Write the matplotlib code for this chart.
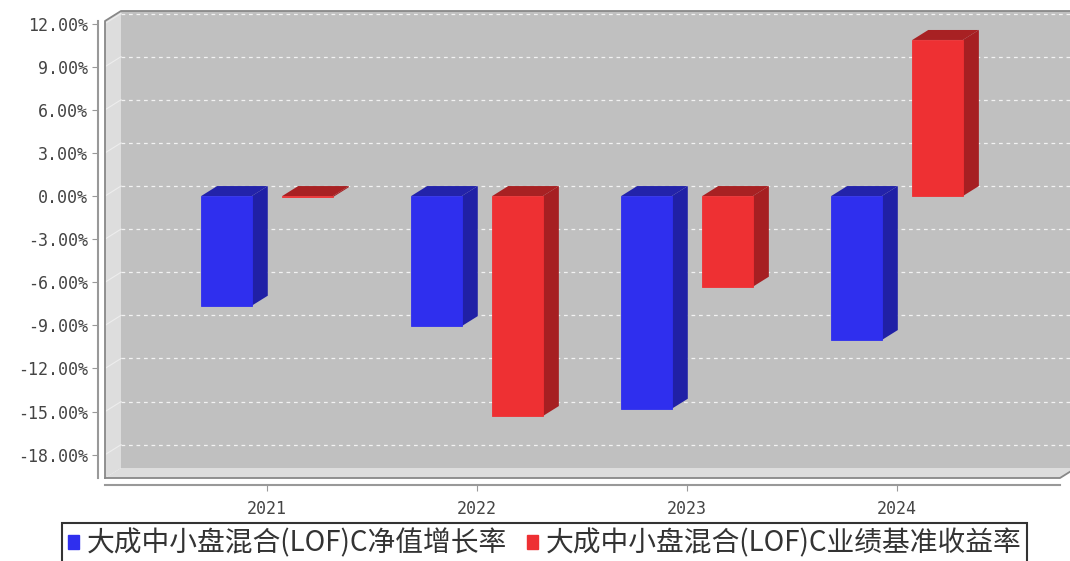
import matplotlib.pyplot as plt
from matplotlib.patches import Polygon, Rectangle, Patch

# data (percent)
years = ["2021", "2022", "2023", "2024"]
nav_growth = [-7.63, -9.05, -14.80, -10.02]
benchmark = [-0.08, -15.31, -6.31, 10.86]
series_names = ["大成中小盘混合(LOF)C净值增长率", "大成中小盘混合(LOF)C业绩基准收益率"]
y_ticks = [-18, -15, -12, -9, -6, -3, 0, 3, 6, 9, 12]

plt.rcParams['font.family'] = ['DejaVu Sans Mono']

W, H = 1070, 561
fig = plt.figure(figsize=(W / 100, H / 100), dpi=100)
ax = fig.add_axes([105 / W, 1 - 478 / H, 955 / W, 457 / H])
x0, x1 = -0.7714, 3.776
y0, y1 = -19.62, 12.18
ax.set_xlim(x0, x1)
ax.set_ylim(y0, y1)
ax.patch.set_visible(False)

# depth offset of the 3d look, in data units
dx = 16 / 210
dy = 10 / 14.37

wall = "#C0C0C0"
side_wall = "#DDDDDD"
edge = "#888888"

def poly(pts, color, z, **kw):
    ax.add_patch(Polygon(pts, closed=True, facecolor=color, edgecolor="none",
                         clip_on=False, zorder=z, **kw))

# back wall, left wall, floor
poly([(x0 + dx, y0 + dy), (x1 + dx, y0 + dy), (x1 + dx, y1 + dy), (x0 + dx, y1 + dy)], wall, 0)
poly([(x0, y0), (x0, y1), (x0 + dx, y1 + dy), (x0 + dx, y0 + dy)], side_wall, 0.5)
poly([(x0, y0), (x1, y0), (x1 + dx, y0 + dy), (x0 + dx, y0 + dy)], side_wall, 0.5)

# gridlines on the walls
for t in y_ticks:
    ax.plot([x0 + dx, x1 + dx], [t + dy, t + dy], color="#F2F2F2", lw=0.9,
            ls=(0, (3, 3)), clip_on=False, zorder=1)
    ax.plot([x0, x0 + dx], [t, t + dy], color="#EDEDED", lw=0.8,
            clip_on=False, zorder=1)

# outline of the box
ax.plot([x0, x0, x0 + dx, x1 + dx], [y0, y1, y1 + dy, y1 + dy],
        color=edge, lw=1.3, clip_on=False, zorder=1.5)
ax.plot([x0, x1, x1 + dx], [y0, y0, y0 + dy], color=edge, lw=1.3,
        clip_on=False, zorder=1.5)

# 3d bars
bw = 0.241
offs = [-0.193, 0.193]
colors = [("#2F2FEE", "#2020A6", "#2323AA"), ("#EE3033", "#A61F22", "#A82123")]
for s, vals in enumerate([nav_growth, benchmark]):
    front, side, top = colors[s]
    for i, v in enumerate(vals):
        a = i + offs[s] - bw / 2
        b = a + bw
        lo, hi = min(0, v), max(0, v)
        poly([(b, lo), (b, hi), (b + dx, hi + dy), (b + dx, lo + dy)], side, 2)
        poly([(a, hi), (b, hi), (b + dx, hi + dy), (a + dx, hi + dy)], top, 2)
        ax.add_patch(Rectangle((a, lo), bw, hi - lo, facecolor=front,
                               edgecolor=front, lw=0.6, clip_on=False, zorder=3))

# axes
for sp in ["top", "right"]:
    ax.spines[sp].set_visible(False)
for sp in ["left", "bottom"]:
    ax.spines[sp].set_position(("outward", 5))
    ax.spines[sp].set_color("#999999")
    ax.spines[sp].set_linewidth(1.5)

ax.set_yticks(y_ticks)
ax.set_yticklabels([f"{t:.2f}%" for t in y_ticks])
ax.set_xticks(range(len(years)))
ax.set_xticklabels(years)
ax.tick_params(axis="y", length=4, color="#999999", labelcolor="#444444",
               labelsize=12, pad=3)
ax.tick_params(axis="x", length=4, color="#999999", labelcolor="#444444",
               labelsize=12, pad=7)

handles = [Patch(color=colors[0][0]), Patch(color=colors[1][0])]
leg = fig.legend(handles, series_names, loc="upper left",
                 bbox_to_anchor=(62 / W, 1 - 523 / H), ncol=2, frameon=True,
                 fancybox=False, edgecolor="black", handlelength=0.4,
                 handleheight=0.4, handletextpad=0.3, columnspacing=0.7,
                 borderpad=0.2, borderaxespad=0,
                 prop={"family": ["Noto Sans CJK SC"], "size": 20})
leg.get_frame().set_linewidth(1.5)
for txt in leg.get_texts():
    txt.set_color("#333333")

fig.savefig("out.png", dpi=100)
